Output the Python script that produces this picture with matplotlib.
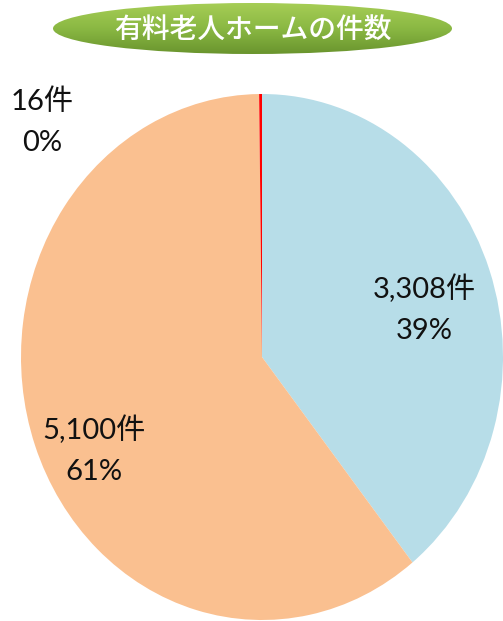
import numpy as np
import matplotlib
matplotlib.use("Agg")
import matplotlib.pyplot as plt
from matplotlib.patches import Ellipse
from matplotlib.colors import LinearSegmentedColormap

# counts per category (clockwise from 12 o'clock)
counts = [3308, 5100, 16]
colors = ["#b7dde8", "#fac090", "#ff0000"]
title = "有料老人ホームの件数"

# label anchor points in figure pixels (x, y from top)
label_pos = [(424, 309), (94, 450), (42, 122)]

W, H = 503, 621
fig = plt.figure(figsize=(W / 100, H / 100), dpi=100)
fig.patch.set_facecolor("white")

# pie axes, stretched vertically so the pie is an ellipse
ax = fig.add_axes([21 / W, 1 / H, 482 / W, 526 / H])
ax.pie(counts, colors=colors, startangle=90, counterclock=False,
       radius=1, wedgeprops=dict(linewidth=0))
ax.set_aspect("auto")
ax.set_xlim(-1, 1)
ax.set_ylim(-1, 1)
ax.axis("off")

total = sum(counts)
for v, (px, py) in zip(counts, label_pos):
    pct = v / total * 100
    fig.text(px / W, 1 - py / H, f"{v:,}件\n{pct:.0f}%",
             ha="center", va="center", fontsize=21, linespacing=1.7,
             family=["Lato", "Noto Sans CJK JP"], color="#111111")

# green badge title
tax = fig.add_axes([53 / W, 1 - 54 / H, 399 / W, 51 / H])
tax.axis("off")
grad = LinearSegmentedColormap.from_list("g", ["#a6cd55", "#8ab843", "#6a952e"])
img = tax.imshow(np.linspace(0, 1, 100).reshape(-1, 1), cmap=grad,
                 extent=(0, 1, 0, 1), aspect="auto", transform=tax.transAxes)
clip = Ellipse((0.5, 0.5), 1, 1, transform=tax.transAxes, facecolor="none")
tax.add_patch(clip)
img.set_clip_path(clip)
tax.text(0.5, 0.46, title, ha="center", va="center", color="white",
         fontsize=20, fontweight="medium", family="Noto Sans CJK JP",
         transform=tax.transAxes)

fig.savefig("out.png", dpi=100, facecolor="white")
